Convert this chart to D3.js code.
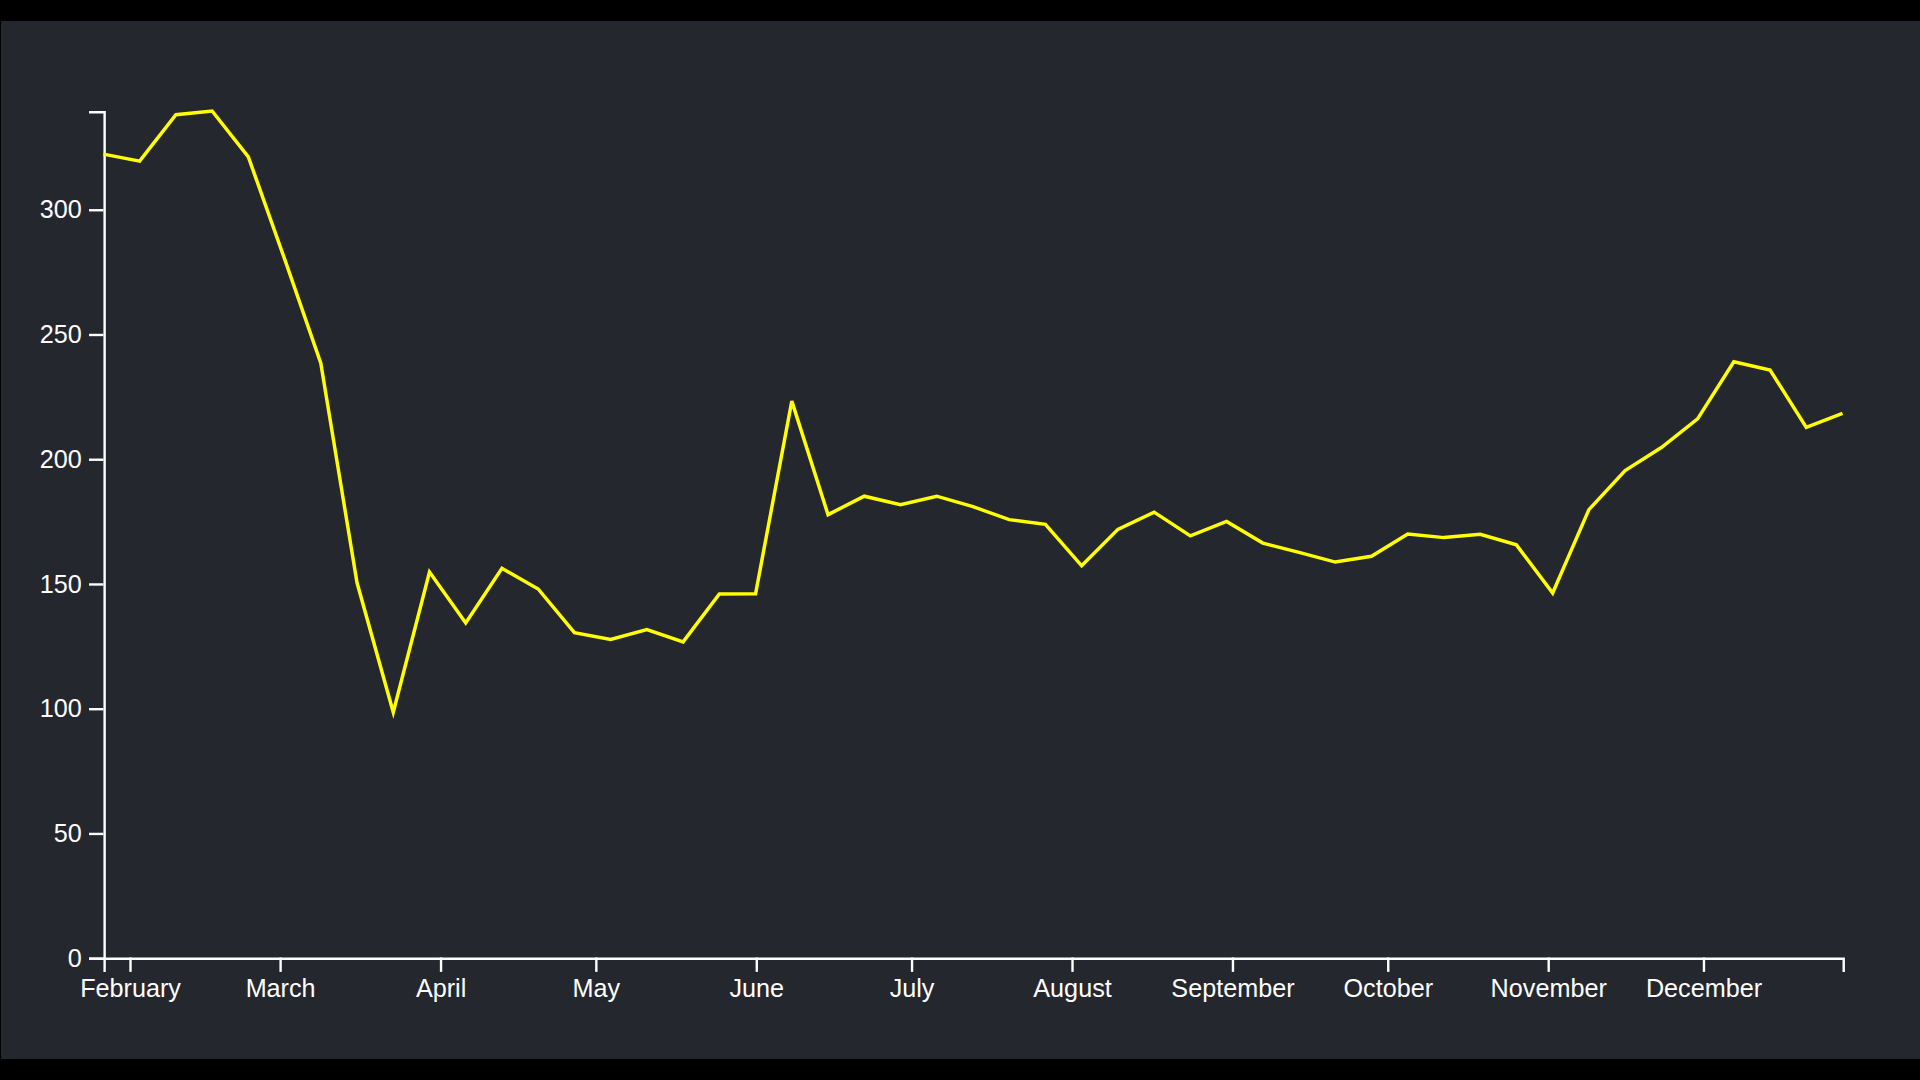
<!DOCTYPE html>
<html>
<head>
<meta charset="utf-8">
<script src="https://cdn.jsdelivr.net/npm/d3@7"></script>
<style>
  html, body { margin: 0; padding: 0; background: #000; overflow: hidden; }
  svg { display: block; position: absolute; top: 21px; left: 1px; background: #25272f; }
  .axis text { font-family: "Liberation Sans", Arial, sans-serif; font-size: 10.5px; fill: #fff; }
  .axis path, .axis line { stroke: #fff; }
</style>
</head>
<body>
<div class="chart"></div>
<script>
// weekly values, Mondays of 2020
const weeks = [
  '2020-01-27', '2020-02-03', '2020-02-10', '2020-02-17', '2020-02-24',
  '2020-03-02', '2020-03-09', '2020-03-16', '2020-03-23', '2020-03-30',
  '2020-04-06', '2020-04-13', '2020-04-20', '2020-04-27', '2020-05-04',
  '2020-05-11', '2020-05-18', '2020-05-25', '2020-06-01', '2020-06-08',
  '2020-06-15', '2020-06-22', '2020-06-29', '2020-07-06', '2020-07-13',
  '2020-07-20', '2020-07-27', '2020-08-03', '2020-08-10', '2020-08-17',
  '2020-08-24', '2020-08-31', '2020-09-07', '2020-09-14', '2020-09-21',
  '2020-09-28', '2020-10-05', '2020-10-12', '2020-10-19', '2020-10-26',
  '2020-11-02', '2020-11-09', '2020-11-16', '2020-11-23', '2020-11-30',
  '2020-12-07', '2020-12-14', '2020-12-21', '2020-12-28'
];
const values = [
  322, 319.2, 337.8, 339.3, 320.9,
  280, 238.2, 150.2, 98.3, 154.5,
  134.1, 156, 147.7, 130.2, 127.5,
  131.4, 126.5, 145.7, 145.8, 223,
  177.5, 184.9, 181.5, 184.9, 180.7,
  175.5, 173.6, 157, 171.6, 178.5,
  169, 174.8, 166.1, 162.4, 158.5,
  160.8, 169.7, 168.3, 169.6, 165.4,
  146.1, 179.5, 195.2, 204.4, 215.9,
  238.8, 235.5, 212.5, 218.1
];
const yTicks = [0, 50, 100, 150, 200, 250, 300];

const vbWidth = 800;
const vbHeight = 432.5;
const margin = { top: 37.5, right: 32.3, bottom: 42.3, left: 42.7 };
const width = vbWidth - margin.left - margin.right;
const height = vbHeight - margin.top - margin.bottom;

const parse = d3.timeParse('%Y-%m-%d');
const data = weeks.map((w, i) => ({ date: parse(w), value: values[i] }));

const svg = d3.select('.chart').append('svg')
    .attr('width', 1919)
    .attr('height', 1038)
    .attr('viewBox', `0 0 ${vbWidth} ${vbHeight}`)
    .attr('preserveAspectRatio', 'none');
const chart = svg.append('g')
    .attr('transform', `translate(${margin.left}, ${margin.top})`);

/*      scales       */
const xScale = d3.scaleTime()
    .range([0, width])
    .domain(d3.extent(data, d => d.date));
const yScale = d3.scaleLinear()
    .range([height, 0])
    .domain([0, d3.max(data, d => d.value)]);

/*      axes       */
chart.append('g')
    .attr('class', 'axis x-axis')
    .attr('transform', `translate(0, ${height})`)
    .call(d3.axisBottom(xScale).ticks(d3.timeMonth.every(1)).tickFormat(d3.timeFormat('%B')));
chart.append('g')
    .attr('class', 'axis y-axis')
    .call(d3.axisLeft(yScale).tickValues(yTicks));
chart.selectAll('.axis text').attr('font-family', null).attr('font-size', null);

/*      line       */
const line = d3.line()
    .x(d => xScale(d.date))
    .y(d => yScale(d.value));
chart.append('path')
    .datum(data)
    .attr('fill', 'none')
    .attr('stroke', '#ffff00')
    .attr('stroke-width', 1.45)
    .attr('stroke-linejoin', 'miter')
    .attr('d', line);
</script>
</body>
</html>
